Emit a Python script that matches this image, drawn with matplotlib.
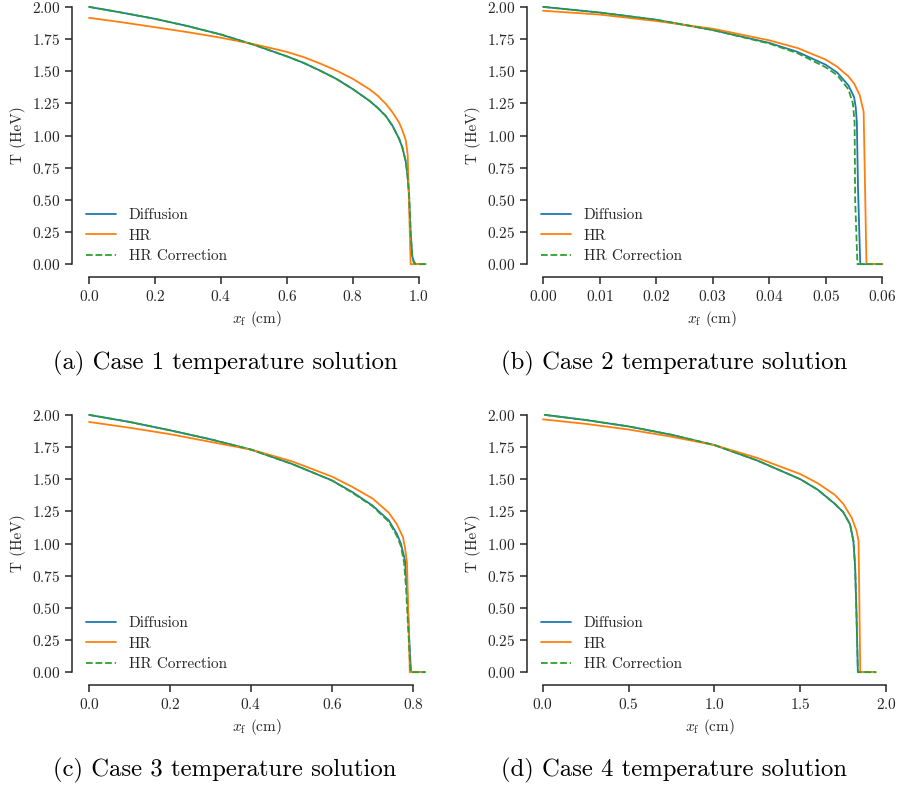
import matplotlib
matplotlib.use("Agg")
import matplotlib.pyplot as plt
import numpy as np
import seaborn as sns

# ---- data (x in cm, T in HeV) ----
# Case 1
c1_diff_x = [0.0, 0.1, 0.2, 0.3, 0.4, 0.5, 0.6, 0.65, 0.7, 0.75, 0.8, 0.85, 0.875, 0.9, 0.92, 0.94, 0.95, 0.96, 0.965, 0.97, 0.975, 0.98, 0.985, 0.99, 1.02]
c1_diff_T = [2.0, 1.955, 1.907, 1.85, 1.785, 1.705, 1.615, 1.565, 1.505, 1.44, 1.36, 1.27, 1.215, 1.15, 1.075, 0.975, 0.905, 0.80, 0.70, 0.55, 0.24, 0.06, 0.02, 0.0, 0.0]
c1_hr_x = [0.0, 0.1, 0.2, 0.3, 0.4, 0.5, 0.6, 0.65, 0.7, 0.75, 0.8, 0.85, 0.875, 0.9, 0.92, 0.94, 0.95, 0.96, 0.966, 0.975, 1.02]
c1_hr_T = [1.915, 1.88, 1.842, 1.803, 1.76, 1.71, 1.65, 1.61, 1.56, 1.505, 1.44, 1.36, 1.31, 1.245, 1.18, 1.10, 1.04, 0.965, 0.85, 0.0, 0.0]
c1_cor_x = c1_diff_x
c1_cor_T = [2.0, 1.955, 1.907, 1.85, 1.785, 1.705, 1.615, 1.565, 1.505, 1.44, 1.36, 1.27, 1.215, 1.15, 1.075, 0.975, 0.905, 0.80, 0.70, 0.55, 0.24, 0.05, 0.01, 0.0, 0.0]

# Case 2
c2_diff_x = [0.0, 0.01, 0.02, 0.03, 0.04, 0.045, 0.05, 0.052, 0.054, 0.055, 0.0553, 0.0555, 0.0557, 0.0561, 0.06]
c2_diff_T = [2.0, 1.956, 1.90, 1.82, 1.72, 1.65, 1.55, 1.49, 1.39, 1.30, 1.22, 1.10, 0.6, 0.0, 0.0]
c2_hr_x = [0.0, 0.01, 0.02, 0.03, 0.04, 0.045, 0.05, 0.052, 0.054, 0.055, 0.056, 0.0567, 0.0572, 0.06]
c2_hr_T = [1.97, 1.94, 1.89, 1.83, 1.74, 1.68, 1.59, 1.535, 1.46, 1.405, 1.315, 1.185, 0.0, 0.0]
c2_cor_x = [0.0, 0.01, 0.02, 0.03, 0.04, 0.045, 0.05, 0.052, 0.054, 0.0548, 0.0551, 0.0552, 0.0556, 0.06]
c2_cor_T = [2.0, 1.956, 1.90, 1.82, 1.715, 1.64, 1.53, 1.47, 1.36, 1.25, 1.10, 0.5, 0.0, 0.0]

# Case 3
c3_diff_x = [0.0, 0.1, 0.2, 0.3, 0.4, 0.5, 0.6, 0.65, 0.7, 0.74, 0.76, 0.77, 0.78, 0.785, 0.79, 0.795, 0.83]
c3_diff_T = [2.0, 1.945, 1.88, 1.81, 1.73, 1.62, 1.49, 1.40, 1.295, 1.18, 1.075, 1.0, 0.87, 0.66, 0.30, 0.0, 0.0]
c3_hr_x = [0.0, 0.1, 0.2, 0.3, 0.4, 0.5, 0.6, 0.65, 0.7, 0.74, 0.76, 0.775, 0.78, 0.785, 0.792, 0.83]
c3_hr_T = [1.945, 1.90, 1.85, 1.79, 1.73, 1.64, 1.52, 1.44, 1.35, 1.24, 1.15, 1.05, 0.97, 0.855, 0.0, 0.0]
c3_cor_x = [0.0, 0.1, 0.2, 0.3, 0.4, 0.5, 0.6, 0.65, 0.7, 0.74, 0.76, 0.77, 0.778, 0.783, 0.789, 0.794, 0.83]
c3_cor_T = [2.0, 1.945, 1.88, 1.81, 1.73, 1.62, 1.49, 1.395, 1.29, 1.17, 1.06, 0.98, 0.85, 0.64, 0.28, 0.0, 0.0]

# Case 4
c4_diff_x = [0.01, 0.25, 0.5, 0.75, 1.0, 1.25, 1.5, 1.6, 1.7, 1.75, 1.79, 1.81, 1.82, 1.828, 1.836, 1.94]
c4_diff_T = [2.0, 1.96, 1.91, 1.845, 1.765, 1.645, 1.50, 1.42, 1.31, 1.245, 1.15, 1.02, 0.82, 0.45, 0.0, 0.0]
c4_hr_x = [0.0, 0.25, 0.5, 0.75, 1.0, 1.25, 1.5, 1.6, 1.7, 1.75, 1.8, 1.828, 1.84, 1.85, 1.94]
c4_hr_T = [1.965, 1.93, 1.886, 1.83, 1.765, 1.665, 1.54, 1.47, 1.38, 1.31, 1.20, 1.10, 1.02, 0.0, 0.0]
c4_cor_x = c4_diff_x
c4_cor_T = c4_diff_T

cases = [
    ("(a) Case 1 temperature solution", c1_diff_x, c1_diff_T, c1_hr_x, c1_hr_T, c1_cor_x, c1_cor_T, [0.0, 0.2, 0.4, 0.6, 0.8, 1.0]),
    ("(b) Case 2 temperature solution", c2_diff_x, c2_diff_T, c2_hr_x, c2_hr_T, c2_cor_x, c2_cor_T, [0.0, 0.01, 0.02, 0.03, 0.04, 0.05, 0.06]),
    ("(c) Case 3 temperature solution", c3_diff_x, c3_diff_T, c3_hr_x, c3_hr_T, c3_cor_x, c3_cor_T, [0.0, 0.2, 0.4, 0.6, 0.8]),
    ("(d) Case 4 temperature solution", c4_diff_x, c4_diff_T, c4_hr_x, c4_hr_T, c4_cor_x, c4_cor_T, [0.0, 0.5, 1.0, 1.5, 2.0]),
]
yticks = [0.0, 0.25, 0.5, 0.75, 1.0, 1.25, 1.5, 1.75, 2.0]

sns.set_style("ticks")
plt.rcParams['font.family'] = 'cmr10'
plt.rcParams['mathtext.fontset'] = 'cm'
plt.rcParams['axes.unicode_minus'] = False
plt.rcParams['axes.formatter.use_mathtext'] = True

W, H = 897, 787
fig = plt.figure(figsize=(W / 100, H / 100), dpi=100)

# axes boxes in pixels: left, right, top, bottom, xlim
boxes = [
    (72, 442, -6, 277, (-0.0515, 1.07)),
    (527, 897, -6, 277, (-0.00284, 0.0626)),
    (72, 442, 402, 685, (-0.042, 0.8715)),
    (527, 892, 402, 685, (-0.093, 2.035)),
]
caps = [(225, 363), (674, 363), (225, 770), (674, 770)]

for (cap, dx, dT, hx, hT, cx, cT, xt), (l, r, t, b, xl), (capx, capy) in zip(cases, boxes, caps):
    ax = fig.add_axes([l / W, 1 - b / H, (r - l) / W, (b - t) / H])
    ax.plot(dx, dT, color='#1f77b4', lw=1.3, label='Diffusion')
    ax.plot(hx, hT, color='#ff7f0e', lw=1.3, label='HR')
    ax.plot(cx, cT, color='#2ca02c', lw=1.3, ls='--', label='HR Correction')
    ax.set_xlim(*xl)
    ax.set_ylim(-0.1, 2.1)
    ax.set_xticks(xt)
    ax.set_yticks(yticks)
    ax.tick_params(labelsize=11, length=5, width=1.1)
    for s in ax.spines.values():
        s.set_linewidth(1.1)
    ax.set_xlabel(r'$x_\mathrm{f}$ (cm)', fontsize=11)
    ax.set_ylabel('T (HeV)', fontsize=11)
    ax.legend(loc='lower left', frameon=False, fontsize=11, labelspacing=0.45)
    sns.despine(ax=ax, trim=True)
    fig.text(capx / W, 1 - capy / H, cap, ha='center', va='center', fontsize=17.8, color='black')

fig.savefig('out.png', dpi=100)
